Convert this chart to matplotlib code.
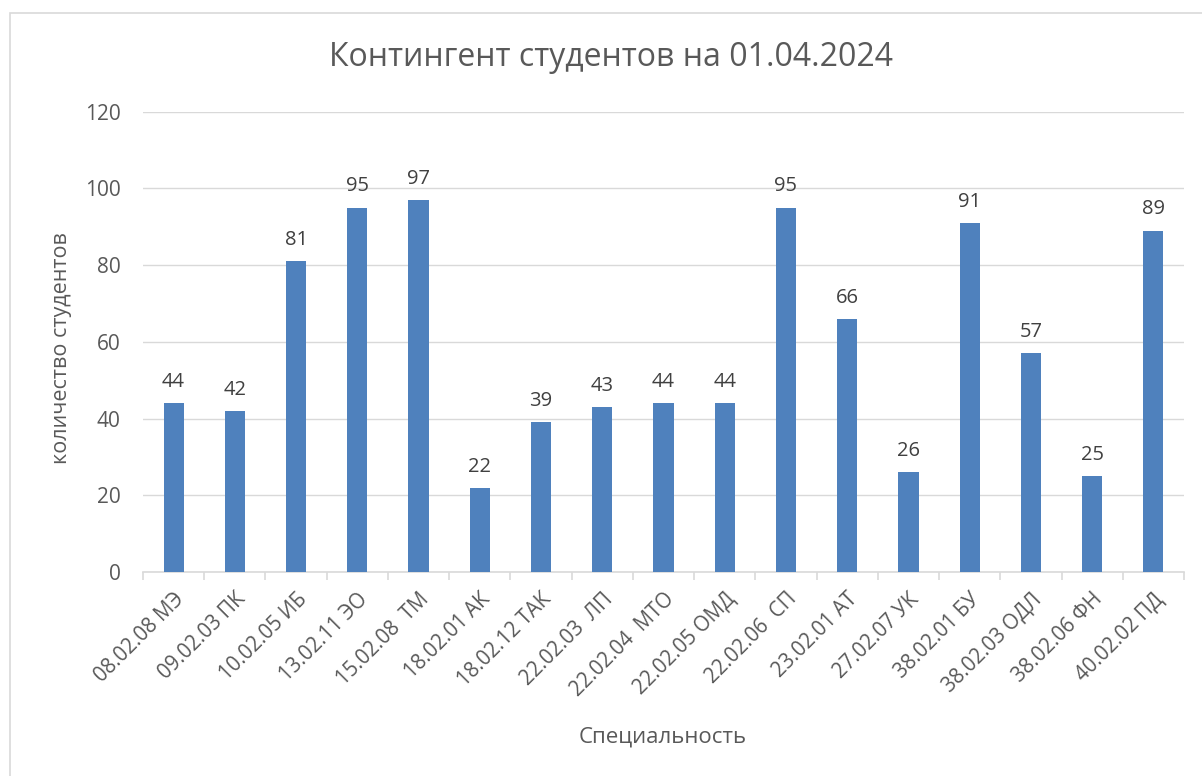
import matplotlib
matplotlib.use('Agg')
import matplotlib.pyplot as plt
from matplotlib.patches import Rectangle

plt.rcParams['font.family'] = ['Open Sans', 'DejaVu Sans']

specialties = ['08.02.08 МЭ', '09.02.03 ПК', '10.02.05 ИБ', '13.02.11 ЭО',
               '15.02.08  ТМ', '18.02.01 АК', '18.02.12 ТАК', '22.02.03  ЛП',
               '22.02.04  МТО', '22.02.05 ОМД', '22.02.06  СП', '23.02.01 АТ',
               '27.02.07 УК', '38.02.01 БУ', '38.02.03 ОДЛ', '38.02.06 ФН',
               '40.02.02 ПД']
students = [44, 42, 81, 95, 97, 22, 39, 43, 44, 44, 95, 66, 26, 91, 57, 25, 89]
y_ticks = [0, 20, 40, 60, 80, 100, 120]

TXT = '#595959'
BAR = '#4F81BD'
GRID = '#D9D9D9'

fig = plt.figure(figsize=(12.02, 7.76), dpi=100)
fig.patches.append(Rectangle((10 / 1202, -0.05), 1.1, 1 - 13 / 776 + 0.05,
                             transform=fig.transFigure, fill=False,
                             ec=GRID, lw=1.2))

ax = fig.add_axes([143 / 1202, 1 - 572 / 776, (1184 - 143) / 1202, (572 - 111.7) / 776])
x = list(range(len(specialties)))
bars = ax.bar(x, students, width=0.33, color=BAR, zorder=3)
ax.bar_label(bars, padding=8, fontsize=14.5, color='#404040')

ax.set_xlim(-0.5, len(specialties) - 0.5)
ax.set_ylim(0, 120)
ax.set_yticks(y_ticks)
ax.yaxis.grid(True, color=GRID, lw=1.0, zorder=0)
ax.tick_params(axis='y', length=0, labelsize=15, labelcolor=TXT, pad=16)

ax.set_xticks(x)
ax.set_xticklabels(specialties, rotation=45, ha='right', rotation_mode='anchor',
                   fontsize=14.8, color=TXT)
ax.set_xticks([i - 0.5 for i in range(len(specialties) + 1)], minor=True)
ax.tick_params(axis='x', which='major', length=0, pad=12)
ax.tick_params(axis='x', which='minor', length=6, color=GRID, width=1.2)

for s in ['top', 'right', 'left']:
    ax.spines[s].set_visible(False)
ax.spines['bottom'].set_color(GRID)
ax.spines['bottom'].set_linewidth(1.2)

fig.text(62 / 1202, 1 - 348 / 776, 'количество студентов', fontsize=15.5,
         color=TXT, ha='center', va='center', rotation=90)
fig.text(663 / 1202, 1 - 737 / 776, 'Специальность', fontsize=16,
         color=TXT, ha='center', va='center')
fig.text(611 / 1202, 1 - 57 / 776, 'Контингент студентов на 01.04.2024',
         fontsize=23, color=TXT, ha='center', va='center')

fig.savefig('out.png', dpi=100)
